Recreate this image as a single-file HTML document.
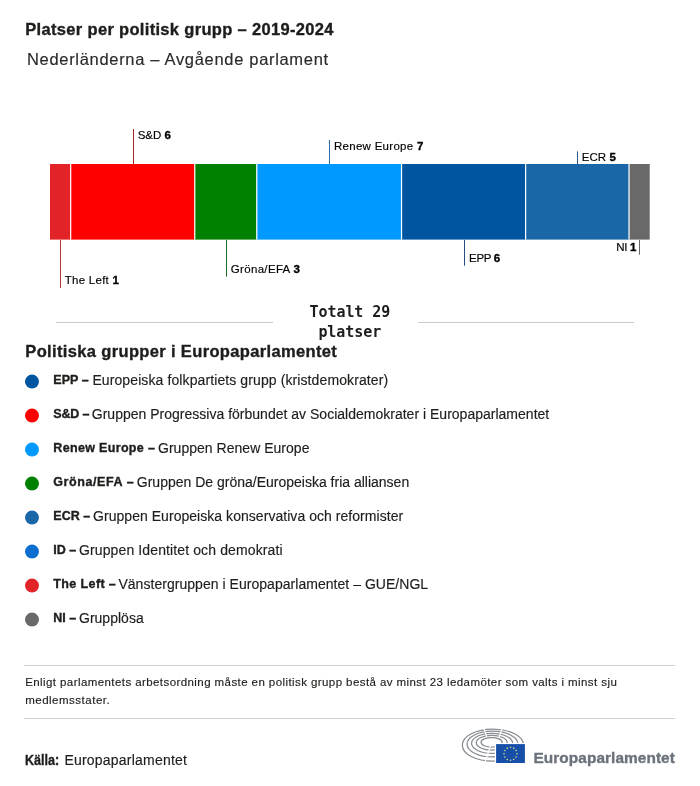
<!DOCTYPE html><html lang="sv"><head><meta charset="utf-8"><title>Platser per politisk grupp</title><style>
html,body{margin:0;padding:0;background:#fff}body{width:700px;height:786px;position:relative;overflow:hidden;font-family:"Liberation Sans", sans-serif;color:#1d1d1b}
.t{position:absolute;white-space:nowrap;line-height:1;margin:0}
.b,.t b{-webkit-text-stroke:0.35px currentColor}
.r{-webkit-text-stroke:0.15px currentColor}
svg{position:absolute;left:0;top:0}
.m{font-family:"DejaVu Sans Mono", "Liberation Mono", monospace}
</style></head><body>
<svg width="700" height="786" viewBox="0 0 700 786"><rect x="50.00" y="164" width="20.68" height="75.6" fill="#e22327"/><rect x="70.68" y="164" width="124.08" height="75.6" fill="#ff0000"/><rect x="194.76" y="164" width="62.04" height="75.6" fill="#008000"/><rect x="256.79" y="164" width="144.76" height="75.6" fill="#0099ff"/><rect x="401.55" y="164" width="124.08" height="75.6" fill="#0055a1"/><rect x="525.62" y="164" width="103.40" height="75.6" fill="#1967a6"/><rect x="629.02" y="164" width="20.68" height="75.6" fill="#696969"/><rect x="70.08" y="164" width="1.2" height="75.6" fill="#fff"/><rect x="194.16" y="164" width="1.2" height="75.6" fill="#fff"/><rect x="256.19" y="164" width="1.2" height="75.6" fill="#fff"/><rect x="400.95" y="164" width="1.2" height="75.6" fill="#fff"/><rect x="525.02" y="164" width="1.2" height="75.6" fill="#fff"/><rect x="628.42" y="164" width="1.2" height="75.6" fill="#fff"/><rect x="60" y="240" width="1" height="48.0" fill="#b5383c"/><rect x="133" y="129" width="1" height="35.0" fill="#a82626"/><rect x="226" y="240" width="1" height="36.6" fill="#1e6e28"/><rect x="329" y="140" width="1" height="24.0" fill="#2d6eaa"/><rect x="464" y="240" width="1" height="25.7" fill="#234f80"/><rect x="577" y="151.4" width="1" height="12.6" fill="#2a5a8a"/><rect x="639" y="240" width="1" height="14.7" fill="#666"/><circle cx="32" cy="381.6" r="7" fill="#0055a1"/><circle cx="32" cy="415.6" r="7" fill="#ff0000"/><circle cx="32" cy="449.6" r="7" fill="#0099ff"/><circle cx="32" cy="483.6" r="7" fill="#008000"/><circle cx="32" cy="517.6" r="7" fill="#1967a6"/><circle cx="32" cy="551.6" r="7" fill="#0e6ecf"/><circle cx="32" cy="585.6" r="7" fill="#e22327"/><circle cx="32" cy="619.6" r="7" fill="#696969"/><rect x="56" y="322" width="217" height="1" fill="#c8c8c8"/><rect x="418" y="322" width="216" height="1" fill="#c8c8c8"/><rect x="24" y="665" width="651" height="1" fill="#d0d0d0"/><rect x="24" y="718" width="651" height="1" fill="#d0d0d0"/><g id="eplogo"><g fill="none" stroke="#878b91" stroke-width="1.25"><ellipse cx="492.95" cy="745.15" rx="30.6" ry="16.05"/><ellipse cx="492.5" cy="744.1" rx="25.5" ry="12.9"/><ellipse cx="492.05" cy="743.35" rx="20.55" ry="10.05"/><ellipse cx="491.75" cy="742.75" rx="15.45" ry="7.35"/><ellipse cx="491.6" cy="742.3" rx="10.5" ry="4.8"/></g><g stroke="#fff" stroke-width="1.2"><line x1="486.8" y1="737.1" x2="483.6" y2="727.0"/><line x1="499.0" y1="737.2" x2="502.9" y2="726.9"/><line x1="490.9" y1="744.9" x2="483.8" y2="765.6"/></g><rect x="494.9" y="743.1" width="36" height="22" fill="#fff"/><rect x="496.1" y="744.1" width="28.8" height="18.9" fill="#164ea8"/><g fill="#d6e08a"><circle cx="517.00" cy="753.80" r="0.8"/><circle cx="516.13" cy="757.05" r="0.8"/><circle cx="513.75" cy="759.43" r="0.8"/><circle cx="510.50" cy="760.30" r="0.8"/><circle cx="507.25" cy="759.43" r="0.8"/><circle cx="504.87" cy="757.05" r="0.8"/><circle cx="504.00" cy="753.80" r="0.8"/><circle cx="504.87" cy="750.55" r="0.8"/><circle cx="507.25" cy="748.17" r="0.8"/><circle cx="510.50" cy="747.30" r="0.8"/><circle cx="513.75" cy="748.17" r="0.8"/><circle cx="516.13" cy="750.55" r="0.8"/></g></g></svg>
<h1 class="t b" style="left:25.30px;top:21.03px;font-size:16.5px;font-weight:700;color:#1d1d1b;letter-spacing:0.321px">Platser per politisk grupp – 2019-2024</h1>
<p class="t r" style="left:27.00px;top:51.43px;font-size:16.5px;font-weight:400;color:#2a2a2a;letter-spacing:0.683px">Nederländerna – Avgående parlament</p>
<div class="t r" style="left:137.70px;top:130.27px;font-size:11.5px;font-weight:400;color:#000;letter-spacing:-0.01px">S&amp;D <b>6</b></div>
<div class="t r" style="left:334.00px;top:141.27px;font-size:11.5px;font-weight:400;color:#000;letter-spacing:0.279px">Renew Europe <b>7</b></div>
<div class="t r" style="left:581.70px;top:152.27px;font-size:11.5px;font-weight:400;color:#000;letter-spacing:0.062px">ECR <b>5</b></div>
<div class="t r" style="left:64.80px;top:274.67px;font-size:11.5px;font-weight:400;color:#000;letter-spacing:0.26px">The Left <b>1</b></div>
<div class="t r" style="left:230.80px;top:264.17px;font-size:11.5px;font-weight:400;color:#000;letter-spacing:0.322px">Gröna/EFA <b>3</b></div>
<div class="t r" style="left:469.10px;top:253.17px;font-size:11.5px;font-weight:400;color:#000;letter-spacing:-0.321px">EPP <b>6</b></div>
<div class="t r" style="left:616.30px;top:241.57px;font-size:11.5px;font-weight:400;color:#000;letter-spacing:-0.302px">NI <b>1</b></div>
<div class="t m" style="left:309.60px;top:305.01px;font-size:15px;font-weight:700;color:#1d1d1b;letter-spacing:-0.076px">Totalt 29</div>
<div class="t m" style="left:318.40px;top:324.81px;font-size:15px;font-weight:700;color:#1d1d1b;letter-spacing:-0.074px">platser</div>
<h2 class="t b" style="left:25.30px;top:342.63px;font-size:16.5px;font-weight:700;color:#1d1d1b;letter-spacing:0.351px">Politiska grupper i Europaparlamentet</h2>
<div class="t b" style="left:53.30px;top:374.12px;font-size:12.5px;font-weight:700;color:#1d1d1b;letter-spacing:0.036px">EPP –</div>
<div class="t r" style="left:92.40px;top:372.85px;font-size:14px;font-weight:400;color:#1d1d1b;letter-spacing:0.102px">Europeiska folkpartiets grupp (kristdemokrater)</div>
<div class="t b" style="left:53.30px;top:408.12px;font-size:12.5px;font-weight:700;color:#1d1d1b;letter-spacing:-0.186px">S&amp;D –</div>
<div class="t r" style="left:91.80px;top:406.85px;font-size:14px;font-weight:400;color:#1d1d1b;letter-spacing:0.009px">Gruppen Progressiva förbundet av Socialdemokrater i Europaparlamentet</div>
<div class="t b" style="left:53.30px;top:442.12px;font-size:12.5px;font-weight:700;color:#1d1d1b;letter-spacing:0.332px">Renew Europe –</div>
<div class="t r" style="left:158.00px;top:440.85px;font-size:14px;font-weight:400;color:#1d1d1b;letter-spacing:0.025px">Gruppen Renew Europe</div>
<div class="t b" style="left:53.30px;top:476.12px;font-size:12.5px;font-weight:700;color:#1d1d1b;letter-spacing:0.576px">Gröna/EFA –</div>
<div class="t r" style="left:136.80px;top:474.85px;font-size:14px;font-weight:400;color:#1d1d1b;letter-spacing:0.0px">Gruppen De gröna/Europeiska fria alliansen</div>
<div class="t b" style="left:53.30px;top:510.12px;font-size:12.5px;font-weight:700;color:#1d1d1b;letter-spacing:0.014px">ECR –</div>
<div class="t r" style="left:93.00px;top:508.85px;font-size:14px;font-weight:400;color:#1d1d1b;letter-spacing:0.043px">Gruppen Europeiska konservativa och reformister</div>
<div class="t b" style="left:53.30px;top:544.12px;font-size:12.5px;font-weight:700;color:#1d1d1b;letter-spacing:-0.009px">ID –</div>
<div class="t r" style="left:79.00px;top:542.85px;font-size:14px;font-weight:400;color:#1d1d1b;letter-spacing:0.119px">Gruppen Identitet och demokrati</div>
<div class="t b" style="left:53.30px;top:578.12px;font-size:12.5px;font-weight:700;color:#1d1d1b;letter-spacing:0.385px">The Left –</div>
<div class="t r" style="left:118.40px;top:576.85px;font-size:14px;font-weight:400;color:#1d1d1b;letter-spacing:0.037px">Vänstergruppen i Europaparlamentet – GUE/NGL</div>
<div class="t b" style="left:53.30px;top:612.12px;font-size:12.5px;font-weight:700;color:#1d1d1b;letter-spacing:-0.009px">NI –</div>
<div class="t r" style="left:79.00px;top:610.85px;font-size:14px;font-weight:400;color:#1d1d1b;letter-spacing:0.012px">Grupplösa</div>
<div class="t r" style="left:25.15px;top:677.07px;font-size:11.5px;font-weight:400;color:#1d1d1b;letter-spacing:0.42px">Enligt parlamentets arbetsordning måste en politisk grupp bestå av minst 23 ledamöter som valts i minst sju</div>
<div class="t r" style="left:25.15px;top:694.87px;font-size:11.5px;font-weight:400;color:#1d1d1b;letter-spacing:0.505px">medlemsstater.</div>
<div class="t b" style="left:25.30px;top:752.85px;font-size:14px;font-weight:700;color:#1d1d1b;letter-spacing:0px;transform:scaleX(0.897);transform-origin:0 0">Källa:</div>
<div class="t r" style="left:64.40px;top:752.85px;font-size:14px;font-weight:400;color:#1d1d1b;letter-spacing:0.219px">Europaparlamentet</div>
<div class="t b" style="left:533.50px;top:750.06px;font-size:15.4px;font-weight:700;color:#6b727b;letter-spacing:0.067px">Europaparlamentet</div>
</body></html>
